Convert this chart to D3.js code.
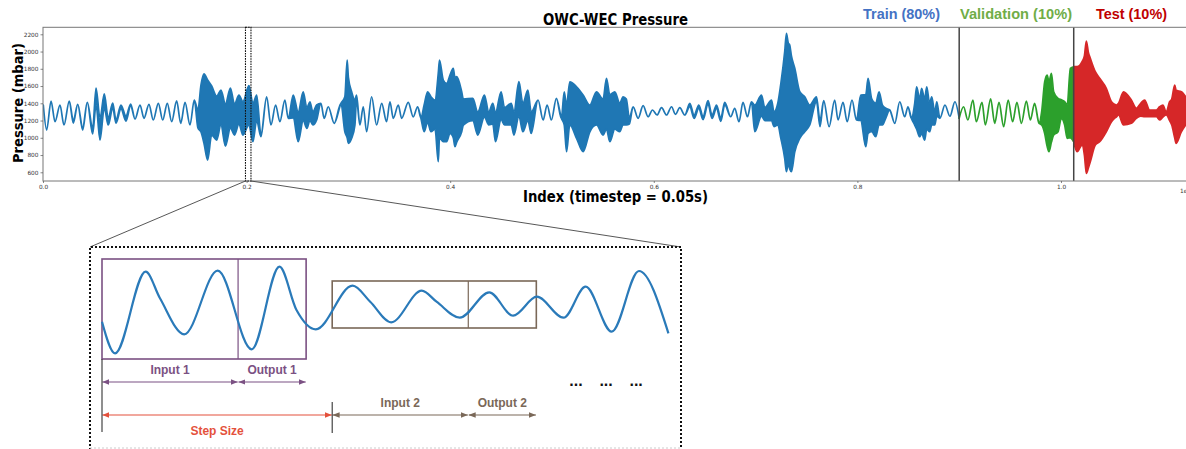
<!DOCTYPE html>
<html><head><meta charset="utf-8">
<script src="https://cdn.jsdelivr.net/npm/d3@7"></script>
<style>
html,body{margin:0;padding:0;background:#fff;}
svg{display:block;}
</style></head>
<body><svg id="chart" width="1186" height="449"></svg>
<script>
// ---------- DATA ----------
// [index, upper envelope (mbar), lower envelope (mbar)]
const trainSignal = [
[300,1380,1380],[3600,1090,1090],[7900,1426,1426],[11800,1186,1186],[16700,1380,1380],[20600,1148,1148],
[25800,1426,1426],[29800,1200,1170],[34100,1388,1388],[39000,1120,1090],[43500,1411,1411],[48800,1113,1044],
[52100,1577,1380],[56000,1229,974],[60200,1508,1345],[64100,1229,1148],[68500,1403,1345],[71700,1210,1171],
[76600,1380,1334],[81500,1252,1194],[86100,1392,1370],[90400,1218,1218],[95300,1380,1380],[99200,1226,1226],
[104100,1388,1388],[108300,1206,1206],[113300,1400,1400],[117600,1206,1206],[122100,1400,1400],[126400,1187,1187],
[131300,1427,1427],[135300,1168,1168],[139500,1412,1412],[144400,1148,1148],[148600,1438,1438],[152200,1322,1113],
[155200,1612,1067],[158100,1740,939],[161700,1670,742],[165700,1600,1032],[170600,1484,974],[174800,1554,1148],
[179200,1392,904],[184100,1577,1113],[188100,1392,1032],[192500,1496,1160],[196400,1420,1032],[202300,1604,1150],
[206200,1400,954],[209900,1496,1200],[214100,1040,1012],[219700,1476,1476],[223900,1148,1148],[228500,1380,1380],
[232700,1186,1186],[237600,1438,1438],[240900,1226,1226],[245800,1496,1230],[250700,1300,954],[255600,1534,1200],
[259200,1350,1110],[262200,1418,1200],[265100,1300,1148],[268800,1380,1206],[273000,1400,1400],[276200,1226,1226],
[280200,1360,1360],[286100,1168,1168],[292700,1400,1400],[296500,1476,1070],[298800,1902,1000],[300000,1700,936],
[303200,1534,994],[306400,1438,1148],[308000,1496,1440],[311300,1148,1148],[314600,1360,1360],[317900,1070,1070],
[322800,1476,1476],[327700,1148,1148],[332700,1400,1400],[337500,1186,1186],[340800,1418,1418],[344100,1226,1226],
[349000,1380,1380],[352300,1226,1226],[358800,1411,1411],[363700,1243,1243],[368000,1360,1360],[371200,1230,1230],
[374400,1380,1070],[377800,1534,1180],[381100,1476,1070],[385100,1438,1100],[388300,1750,722],[389500,1902,1000],
[393200,1670,954],[396500,1630,954],[399800,1728,1050],[403000,1806,1000],[404700,1700,896],[406400,1708,950],
[411300,1534,1070],[412900,1450,1148],[422200,1458,1200],[427100,1300,1032],[433600,1496,1240],[437900,1300,1150],
[441800,1400,1160],[444500,1290,954],[450000,1534,1210],[453400,1350,1148],[459900,1400,1150],[462600,1300,1032],
[467500,1650,1250],[471400,1400,1070],[476300,1554,1200],[479600,1300,1050],[486300,1438,1438],[491300,1206,1206],
[495200,1380,1380],[499400,1206,1206],[504300,1458,1458],[509200,1226,1226],[512000,1534,1150],[514300,1380,838],
[517500,1650,1150],[524100,1592,994],[530600,1496,838],[537200,1380,1070],[543700,1534,1148],[550200,1450,1032],
[553500,1690,1100],[556800,1500,954],[561700,1534,1100],[566600,1400,1070],[569800,1476,1150],[573000,1450,1150],
[576000,1230,1160],[579700,1360,1360],[584600,1226,1226],[589500,1372,1372],[594400,1244,1244],[598700,1322,1322],
[603200,1264,1264],[607600,1349,1349],[612500,1264,1264],[617400,1360,1360],[621300,1272,1272],[625500,1349,1349],
[630400,1264,1264],[635400,1400,1360],[639600,1264,1226],[644200,1380,1340],[648400,1250,1210],[653300,1430,1390],
[657200,1264,1226],[661600,1380,1340],[665800,1230,1190],[669700,1410,1380],[675600,1244,1244],[679500,1342,1342],
[683700,1186,1186],[687600,1411,1411],[692000,1244,1244],[695900,1418,1418],[699200,1380,1070],[705800,1496,1250],
[709100,1350,1200],[715700,1438,1200],[718000,1300,1130],[721800,1400,1150],[724700,1620,1000],[728600,1998,762],
[730300,2212,606],[732100,2100,700],[733500,2076,640],[735200,1950,606],[738500,1806,838],[743400,1534,994],
[748300,1476,1070],[753200,1380,1148],[759800,1476,1420],[763300,1200,1130],[766900,1430,1430],[772200,1128,1128],
[777700,1438,1438],[781000,1206,1206],[785900,1411,1411],[790000,1186,1186],[794700,1438,1438],[799100,1206,1206],
[803300,1496,1200],[808200,1500,896],[810500,1690,1050],[814100,1450,1070],[818000,1400,1012],[821300,1534,1150],
[824600,1380,1148],[827800,1342,1226],[831800,1322,1322],[836700,1168,1168],[841600,1418,1418],[846500,1244,1244],
[849700,1360,1360],[853000,1226,1226],[856300,1400,1148],[858200,1592,1100],[861200,1450,1012],[863100,1574,1050],
[866100,1450,974],[868100,1592,1100],[871000,1400,1070],[873000,1476,1150],[876000,1300,1148],[878000,1418,1250],
[881100,1226,1226],[886000,1380,1380],[890900,1250,1250],[895800,1418,1418],[900000,1226,1226]
];
const validationSignal = [
[900000,1226,1226],[904300,1360,1360],[908500,1206,1206],[913500,1438,1438],[916800,1186,1186],[922400,1411,1411],
[925700,1148,1148],[930900,1450,1450],[934900,1168,1168],[939100,1411,1411],[943700,1128,1128],[948100,1438,1438],
[952500,1186,1186],[956700,1411,1411],[961100,1168,1168],[966000,1426,1426],[969900,1206,1206],[974100,1400,1400],
[978400,1168,1168],[981000,1300,1150],[984000,1650,1050],[986400,1728,900],[988200,1650,838],[990600,1748,950],
[992800,1534,1032],[997100,1458,1070],[1000400,1440,1226],[1003600,1420,1148],[1006100,1380,994],[1009200,1806,1000],
[1012500,1824,954]
];
const testSignal = [
[1012500,1824,954],[1015800,1824,838],[1020700,1882,916],[1023000,1950,800],[1024900,2122,588],[1026900,1990,650],
[1028800,1922,722],[1033700,1766,916],[1038000,1690,954],[1044500,1574,1070],[1049600,1418,1186],[1054500,1380,1244],
[1056500,1400,1264],[1061400,1534,1148],[1069100,1438,1168],[1074000,1342,1226],[1078300,1400,1250],[1082200,1438,1244],
[1087100,1322,1244],[1093700,1322,1244],[1096900,1360,1206],[1100100,1380,1240],[1103400,1300,1264],[1106700,1418,1200],
[1108800,1450,1148],[1111700,1612,1000],[1113100,1550,936],[1118200,1534,1070],[1122400,1476,1148]
];
const splitIndex = [900000, 1012500];          // train | validation | test
const zoomWindow = [198900, 204300];           // dotted window shown in the inset
const xTicks = [0, 200000, 400000, 600000, 800000, 1000000];
const yTicks = [600, 800, 1000, 1200, 1400, 1600, 1800, 2000, 2200];
const splitLabels = ["Train (80%)", "Validation (10%)", "Test (10%)"];

// inset (schematic) curve: position along window (0-100), amplitude (0-100)
const insetPos = [0,2.3,7.7,10.2,14.5,20.4,26.4,31.3,34.3,37.7,44.2,47.3,51.0,56.4,59.0,63.1,68.3,72.5,76.7,81.4,85.3,89.9,94.7,99.9];
const insetAmp = [38.3,6.7,88.3,62,25.7,89.3,10.7,93.3,50,30.7,74.3,58.3,37.7,69.3,58.3,42.3,67.7,44.3,63.3,42.3,73.3,28.3,89,26.7];
const windowStart = [0, 40.6];
const inputLength = 24, outputLength = 12;
const windowLow = [1, 32], windowHigh = [101, 79];
const windowNames = [["Input 1","Output 1"],["Input 2","Output 2"]];

// ---------- DRAW ----------
const svg = d3.select("#chart");
const PL = 43, PR = 1186, PT = 27.3, PB = 181;
const x = d3.scaleLinear().domain([0, 1122800]).range([PL, PR]);
const y = d3.scaleLinear().domain([499, 2281]).range([PB, PT]);
const C = {train:"#1f77b4", val:"#2ca02c", test:"#d62728"};

svg.append("defs").append("clipPath").attr("id","plotclip")
  .append("rect").attr("x",PL).attr("y",PT).attr("width",PR-PL).attr("height",PB-PT);

const area = d3.area().x(d=>x(d[0])).y0(d=>y(d[2])).y1(d=>y(d[1])).curve(d3.curveMonotoneX);
const sig = svg.append("g").attr("clip-path","url(#plotclip)");
[[trainSignal,C.train],[validationSignal,C.val],[testSignal,C.test]].forEach(([d,c])=>{
  sig.append("path").datum(d).attr("d",area).attr("fill",c).attr("stroke",c)
    .attr("stroke-width",1.7).attr("stroke-linejoin","round");
});

// split lines
svg.selectAll(".split").data(splitIndex).join("line")
  .attr("x1",d=>x(d)).attr("x2",d=>x(d)).attr("y1",PT).attr("y2",PB)
  .attr("stroke","#444").attr("stroke-width",1.5);

// frame
svg.append("rect").attr("x",PL).attr("y",PT).attr("width",PR-PL+2).attr("height",PB-PT)
  .attr("fill","none").attr("stroke","#777").attr("stroke-width",1);

// axes
const fontTick = "DejaVu Sans";
const ax = svg.append("g").attr("transform",`translate(0,${PB})`)
  .call(d3.axisBottom(x).tickValues(xTicks).tickFormat(d=>d3.format(".1f")(d/1e6)).tickSize(2).tickPadding(2));
const ay = svg.append("g").attr("transform",`translate(${PL},0)`)
  .call(d3.axisLeft(y).tickValues(yTicks).tickFormat(d3.format("d")).tickSize(2.5).tickPadding(2));
[ax,ay].forEach(a=>{
  a.select(".domain").remove();
  a.selectAll("text").attr("font-size","5.8px").attr("font-family",fontTick).attr("fill","#333");
  a.selectAll("line").attr("stroke","#555").attr("stroke-width",0.7);
});
svg.append("text").attr("x",1180).attr("y",193).attr("font-size","5.8px").attr("font-family",fontTick).attr("fill","#333").text("1e6");

// zoom window
svg.append("rect").attr("x",x(zoomWindow[0])).attr("y",PT).attr("width",x(zoomWindow[1])-x(zoomWindow[0])).attr("height",PB-PT)
  .attr("fill","none").attr("stroke","#111").attr("stroke-width",1.1).attr("stroke-dasharray","1.6,1");

// titles
const bold = "DejaVu Sans";
svg.append("text").attr("x",615.5).attr("y",25).attr("text-anchor","middle").attr("font-family",bold).attr("font-weight","bold")
  .attr("font-size","15px").attr("textLength",145).attr("lengthAdjust","spacingAndGlyphs").text("OWC-WEC Pressure");
svg.append("text").attr("x",615.5).attr("y",202).attr("text-anchor","middle").attr("font-family",bold).attr("font-weight","bold")
  .attr("font-size","15px").attr("textLength",185).attr("lengthAdjust","spacingAndGlyphs").text("Index (timestep = 0.05s)");
svg.append("text").attr("transform","translate(23,103) rotate(-90)").attr("text-anchor","middle").attr("font-family",bold).attr("font-weight","bold")
  .attr("font-size","14px").attr("textLength",120).attr("lengthAdjust","spacingAndGlyphs").text("Pressure (mbar)");

const legX = [901.5, 1016, 1131.5], legW = [77, 112, 71], legC = ["#4472c4","#70ad47","#c00000"];
svg.selectAll(".leg").data(splitLabels).join("text")
  .attr("x",(d,i)=>legX[i]).attr("y",19).attr("text-anchor","middle")
  .attr("font-family","Liberation Sans").attr("font-weight","bold").attr("font-size","15px")
  .attr("textLength",(d,i)=>legW[i]).attr("lengthAdjust","spacingAndGlyphs")
  .attr("fill",(d,i)=>legC[i]).text(d=>d);

// ---------- INSET ----------
const IL = 90, IR = 681, IT = 247;
svg.append("line").attr("x1",x(zoomWindow[0])).attr("y1",PB).attr("x2",IL).attr("y2",IT).attr("stroke","#444").attr("stroke-width",0.9);
svg.append("line").attr("x1",x(zoomWindow[1])).attr("y1",PB).attr("x2",IR).attr("y2",IT).attr("stroke","#444").attr("stroke-width",0.9);
svg.append("path").attr("d",`M${IL},470 V${IT} H${IR} V470`).attr("fill","none").attr("stroke","#111").attr("stroke-width",2).attr("stroke-dasharray","2,2");
svg.append("line").attr("x1",IL).attr("x2",IR).attr("y1",448).attr("y2",448).attr("stroke","#ccc").attr("stroke-width",1).attr("stroke-dasharray","2,2");

const ux = d3.scaleLinear().domain([0,100]).range([102,669]);
const vy = d3.scaleLinear().domain([0,100]).range([360,260]);

const purple = "#7b5183", brown = "#7a6858", red = "#e4513c";
const defs = svg.select("defs");
[["p",purple],["b",brown],["r",red]].forEach(([k,c])=>{
  defs.append("marker").attr("id","arr"+k).attr("viewBox","0 0 8 8").attr("refX",8).attr("refY",4)
    .attr("markerWidth",7).attr("markerHeight",7).attr("markerUnits","userSpaceOnUse").attr("orient","auto-start-reverse")
    .append("path").attr("d","M0,0.8 L8,4 L0,7.2 z").attr("fill",c);
});

// windows
const winColor = [purple, brown];
windowStart.forEach((s,i)=>{
  const g = svg.append("g");
  g.append("rect").attr("x",ux(s)).attr("y",vy(windowHigh[i])).attr("width",ux(s+inputLength+outputLength)-ux(s))
    .attr("height",vy(windowLow[i])-vy(windowHigh[i])).attr("fill","none").attr("stroke",winColor[i]).attr("stroke-width",1.6);
  g.append("line").attr("x1",ux(s+inputLength)).attr("x2",ux(s+inputLength)).attr("y1",vy(windowHigh[i])).attr("y2",vy(windowLow[i]))
    .attr("stroke",winColor[i]).attr("stroke-width",1.2);
});

// curve
const insetLine = d3.line().x((d,i)=>ux(insetPos[i])).y(d=>vy(d)).curve(d3.curveMonotoneX);
svg.append("path").datum(insetAmp).attr("d",insetLine).attr("fill","none").attr("stroke","#2a7ab9").attr("stroke-width",2.2);

// arrows
function arrow(u0,u1,v,c,k){
  svg.append("line").attr("x1",ux(u0)+0.4).attr("x2",ux(u1)-0.4).attr("y1",vy(v)).attr("y2",vy(v))
    .attr("stroke",c).attr("stroke-width",1.2).attr("marker-start",`url(#arr${k})`).attr("marker-end",`url(#arr${k})`);
}
arrow(windowStart[0], windowStart[0]+inputLength, -22, purple, "p");
arrow(windowStart[0]+inputLength, windowStart[0]+inputLength+outputLength, -22, purple, "p");
arrow(windowStart[0], windowStart[1], -55, red, "r");
arrow(windowStart[1], windowStart[1]+inputLength, -55, brown, "b");
arrow(windowStart[1]+inputLength, windowStart[1]+inputLength+outputLength, -55, brown, "b");

// ticks marking window starts
svg.append("line").attr("x1",ux(windowStart[0])).attr("x2",ux(windowStart[0])).attr("y1",vy(windowLow[0])).attr("y2",vy(-72)).attr("stroke","#333").attr("stroke-width",1.1);
svg.append("line").attr("x1",ux(windowStart[1])).attr("x2",ux(windowStart[1])).attr("y1",vy(-42)).attr("y2",vy(-73)).attr("stroke","#333").attr("stroke-width",1.1);

// labels
const lab = (u,yy,t,c)=>svg.append("text").attr("x",ux(u)).attr("y",yy).attr("text-anchor","middle")
  .attr("font-family","Liberation Sans").attr("font-weight","bold").attr("font-size","12px").attr("fill",c).text(t);
lab(windowStart[0]+inputLength/2, 373.5, windowNames[0][0], purple);
lab(windowStart[0]+inputLength+outputLength/2, 373.5, windowNames[0][1], purple);
lab(windowStart[1]+inputLength/2, 407, windowNames[1][0], brown);
lab(windowStart[1]+inputLength+outputLength/2, 406.5, windowNames[1][1], brown);
lab(windowStart[1]/2, 435, "Step Size", red);
[83.6, 88.9, 94.2].forEach(u=>{
  svg.append("text").attr("x",ux(u)).attr("y",386).attr("text-anchor","middle").attr("font-family","Liberation Sans")
    .attr("font-weight","bold").attr("font-size","16px").attr("fill","#111").text("...");
});
</script></body></html>
